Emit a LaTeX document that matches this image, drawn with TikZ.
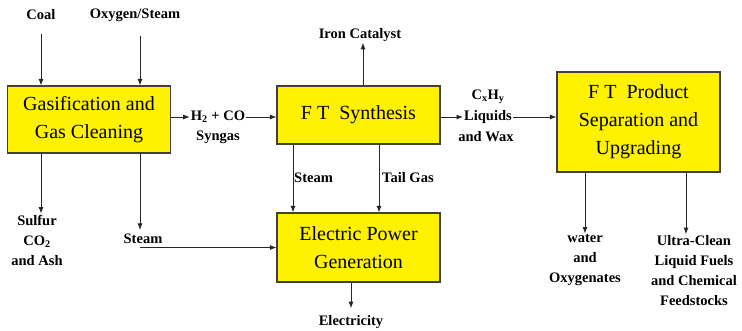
\documentclass[tikz,border=0pt]{standalone}
\usepackage{fontspec}
\setmainfont{Liberation Serif}
\usetikzlibrary{arrows.meta,positioning}

\begin{document}
\begin{tikzpicture}[x=1pt,y=-1pt,>={Latex[length=6.5pt,width=5pt]},
  box/.style={draw=black!75,line width=1.1pt,fill=yellow,minimum width=163pt,
    inner sep=0pt,align=center,font=\fontsize{20}{28}\selectfont},
  lbl/.style={font=\bfseries\fontsize{14.5}{20}\selectfont,align=center,inner sep=1pt},
  flow/.style={->,line width=0.9pt,black!85}]
  \useasboundingbox (0,0) rectangle (742,331);
  \node[box,minimum height=67pt] (gas) at (89,119.5) {Gasification and\\Gas Cleaning};
  \node[box,minimum height=58pt] (ft) at (358.5,115) {F T\ \ Synthesis};
  \node[box,minimum height=100pt] (prod) at (638.5,122) {F T\ \ Product\\Separation and\\Upgrading};
  \node[box,minimum height=69pt] (pow) at (358.5,247.5) {Electric Power\\Generation};

  \node[lbl] (coal) at (41,15) {Coal};
  \node[lbl] (oxy) at (135,15) {Oxygen/Steam};
  \node[lbl] (h2) at (218,117) {H\textsubscript{2} + CO};
  \node[lbl] (syn) at (218,137) {Syngas};
  \node[lbl] (iron) at (360,35) {Iron Catalyst};
  \node[lbl] (cxhy) at (488,97) {C\textsubscript{x}H\textsubscript{y}};
  \node[lbl] (liq) at (488,117) {Liquids};
  \node[lbl] (wax) at (486,137) {and Wax};
  \node[lbl] (sulfur) at (37,240) {Sulfur\\CO\textsubscript{2}\\and Ash};
  \node[lbl] (steamA) at (143,239) {Steam};
  \node[lbl,anchor=west] (steamB) at (293,178) {Steam};
  \node[lbl,anchor=west] (tail) at (381,178) {Tail Gas};
  \node[lbl] (elec) at (351,322) {Electricity};
  \node[lbl] (water) at (585,260.5) {water\\and\\Oxygenates};
  \node[lbl] (ultra) at (694,270.5) {Ultra-Clean\\Liquid Fuels\\and Chemical\\Feedstocks};
  \coordinate (tapB) at (140,0);

  \draw[flow] (coal.south) ++(0,13) -- (coal.south |- gas.north);
  \draw[flow] (tapB |- oxy.south) ++(0,13) -- (tapB |- gas.north);
  \draw[flow] (gas.east |- h2) -- (h2.west);
  \draw[flow] (h2.east) -- (ft.west |- h2);
  \draw[flow] ([xshift=4.5pt]ft.north) -- ([xshift=3pt]iron.south);
  \draw[flow] (ft.east |- liq) -- (liq.west);
  \draw[flow] (liq.east) -- (prod.west |- liq);
  \draw[flow] (coal |- gas.south) -- ([xshift=4pt]sulfur.north);
  \draw[flow] (tapB |- gas.south) -- ([yshift=3pt]tapB |- steamA.north);
  \draw[flow] (tapB |- pow.west) -- (pow.west);
  \draw[flow] (steamB.west |- ft.south) -- (steamB.west |- pow.north);
  \draw[flow] ([xshift=-2pt]tail.west |- ft.south) -- ([xshift=-2pt]tail.west |- pow.north);
  \draw[flow] (pow.south -| elec) -- ([yshift=6pt]elec.north);
  \draw[flow] (prod.south -| water) -- (water.north);
  \draw[flow] ([xshift=-8pt]ultra.north |- prod.south) -- ([xshift=-8pt]ultra.north);
\end{tikzpicture}
\end{document}
